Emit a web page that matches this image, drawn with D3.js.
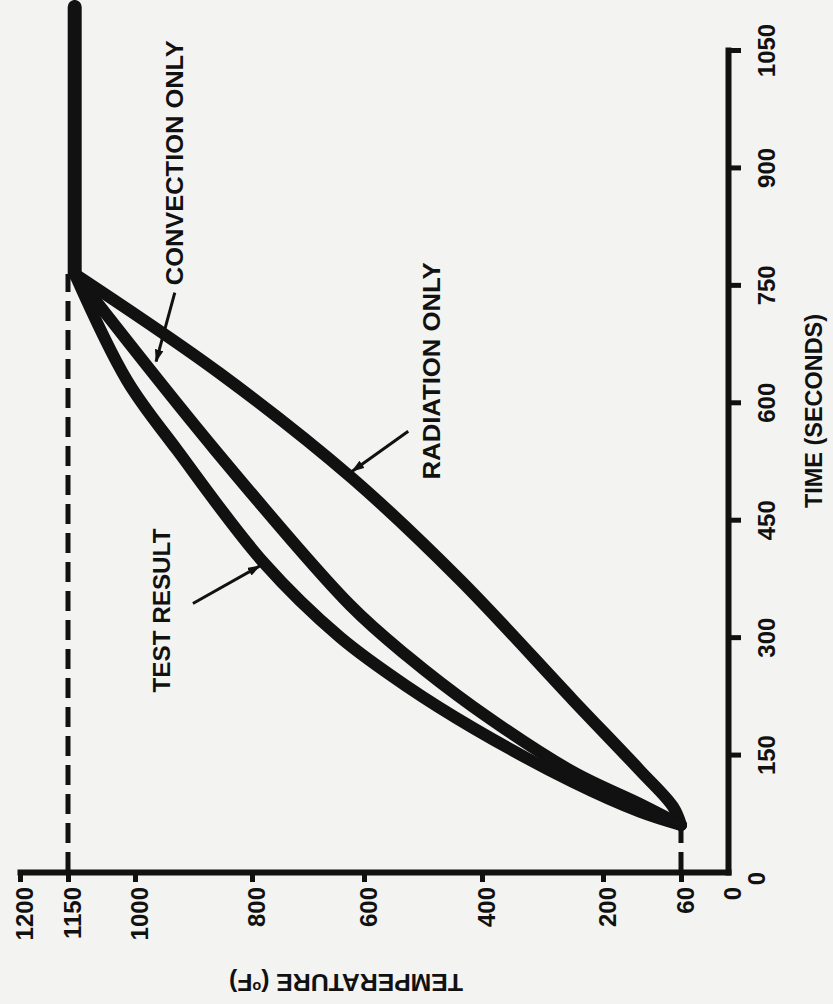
<!DOCTYPE html>
<html>
<head>
<meta charset="utf-8">
<script src="https://cdn.jsdelivr.net/npm/d3@7"></script>
<style>
  html, body { margin: 0; padding: 0; background: #f3f3f1; }
  svg { display: block; }
  text { font-family: "Liberation Sans", Arial, sans-serif; font-weight: bold; fill: #111; }
</style>
</head>
<body>
<div id="chart"></div>
<script>
// values: [time (s), temperature (F)]
var timeTicks = [0, 150, 300, 450, 600, 750, 900, 1050];
var tempTicks = [1200, 1150, 1000, 800, 600, 400, 200, 60, 0];

var radiationOnly = [[60, 60], [83, 74], [130, 134], [220, 250], [373, 437], [503, 621], [637, 855], [764, 1135]];
var convectionOnly = [[60, 60], [87, 134], [128, 250], [211, 415], [276, 527], [341, 625], [539, 863], [764, 1135]];
var testResult = [[60, 60], [77, 134], [115, 250], [184, 415], [237, 527], [300, 643], [395, 779],
    [539, 928], [628, 1018], [764, 1135]];
var steadyState = [[764, 1135], [1105, 1135]];

// dashed reference lines: initial and final temperature
var initialLine = [[0, 60], [60, 60]];
var finalLine = [[0, 1150], [764, 1150]];

// annotations, anchors in [time, temp]
var labelNames = ["CONVECTION ONLY", "TEST RESULT", "RADIATION ONLY"];
var labelAnchors = [[906, 932], [334, 954], [640, 486]];
var arrowTails = [[740, 932], [343, 901], [563, 525]];
var arrowTips = [[652, 964], [391, 786], [512, 621]];

// layout (the page is drawn turned on its side: time runs up, temperature runs left)
var width = 833, height = 1004;
var tempTickX = [20, 68, 135, 252, 364, 482, 603, 681, 728]; // hand drawn axis, not quite even
var labelLengths = [245, 164, 217];
var ink = "#111";

var svg = d3.select("#chart")
    .append("svg")
    .attr("width", width)
    .attr("height", height);

svg.append("defs").append("marker")
    .attr("id", "head")
    .attr("viewBox", "0 0 12 8")
    .attr("refX", 11)
    .attr("refY", 4)
    .attr("markerWidth", 13)
    .attr("markerHeight", 9)
    .attr("markerUnits", "userSpaceOnUse")
    .attr("orient", "auto")
    .append("path")
    .attr("d", "M0,0 L12,4 L0,8 z")
    .attr("fill", ink);

var timeScale = d3.scaleLinear()
    .domain([0, 1050])
    .range([872, 50]);

var tempScale = d3.scaleLinear()
    .domain(tempTicks)
    .range(tempTickX);

// temperature axis along the bottom
var tempAxis = svg.append("g")
    .attr("transform", "translate(0, 872)")
    .call(d3.axisBottom(tempScale).tickValues(tempTicks).tickSize(10).tickSizeOuter(0)
        .tickFormat(d3.format("d")));

// time axis on the right
var timeAxis = svg.append("g")
    .attr("transform", "translate(728, 0)")
    .call(d3.axisRight(timeScale).tickValues(timeTicks).tickSize(13).tickSizeOuter(0)
        .tickFormat(d3.format("d")));

[tempAxis, timeAxis].forEach(function (ax) {
    ax.select(".domain")
        .attr("stroke", ink)
        .attr("stroke-width", 6)
        .attr("stroke-linecap", "square");
    ax.selectAll(".tick line")
        .attr("stroke", ink)
        .attr("stroke-width", 5)
        .filter(d => d == 0)
        .remove();
    ax.selectAll(".tick text")
        .attr("x", null)
        .attr("y", null)
        .attr("dy", null)
        .attr("fill", ink)
        .style("font-size", "24px")
        .style("font-family", null);
});

tempAxis.selectAll(".tick text")
    .attr("text-anchor", "end")
    .attr("transform", "translate(12, 15) rotate(-90)");

timeAxis.selectAll(".tick text")
    .attr("text-anchor", "middle")
    .attr("transform", d => d == 0 ? "translate(37, 6) rotate(-90)" : "translate(47, 0) rotate(-90)");

// axis titles
var tempTitle = svg.append("text")
    .attr("transform", "translate(346, 974) rotate(180)")
    .attr("text-anchor", "middle")
    .attr("textLength", 234)
    .attr("lengthAdjust", "spacingAndGlyphs")
    .style("font-size", "24px");
tempTitle.append("tspan").text("TEMPERATURE (");
tempTitle.append("tspan").text("o").style("font-size", "14px").attr("dy", -8);
tempTitle.append("tspan").text("F)").attr("dy", 8);

svg.append("text")
    .attr("transform", "translate(822, 411) rotate(-90)")
    .attr("text-anchor", "middle")
    .attr("textLength", 194)
    .attr("lengthAdjust", "spacingAndGlyphs")
    .style("font-size", "24px")
    .text("TIME (SECONDS)");

var line = d3.line()
    .x(d => tempScale(d[1]))
    .y(d => timeScale(d[0]));

// dashed reference lines
[initialLine, finalLine].forEach(function (data) {
    svg.append("path")
        .datum(data)
        .attr("fill", "none")
        .attr("stroke", ink)
        .attr("stroke-width", 5)
        .attr("stroke-dasharray", "20,9")
        .attr("d", line);
});

// the three curves
var curve = d3.line()
    .x(d => tempScale(d[1]))
    .y(d => timeScale(d[0]))
    .curve(d3.curveCatmullRom);

[radiationOnly, convectionOnly, testResult].forEach(function (data) {
    svg.append("path")
        .datum(data)
        .attr("fill", "none")
        .attr("stroke", ink)
        .attr("stroke-width", 12)
        .attr("stroke-linejoin", "round")
        .attr("stroke-linecap", "round")
        .attr("d", curve);
});

svg.append("path")
    .datum(steadyState)
    .attr("fill", "none")
    .attr("stroke", ink)
    .attr("stroke-width", 14)
    .attr("stroke-linecap", "round")
    .attr("d", line);

// labels and arrows
labelNames.forEach(function (name, i) {
    svg.append("text")
        .attr("transform", "translate(" + (tempScale(labelAnchors[i][1]) + 8.5) + "," +
            timeScale(labelAnchors[i][0]) + ") rotate(-90)")
        .attr("text-anchor", "middle")
        .attr("textLength", labelLengths[i])
        .attr("lengthAdjust", "spacingAndGlyphs")
        .style("font-size", "24px")
        .text(name);

    svg.append("line")
        .attr("x1", tempScale(arrowTails[i][1]))
        .attr("y1", timeScale(arrowTails[i][0]))
        .attr("x2", tempScale(arrowTips[i][1]))
        .attr("y2", timeScale(arrowTips[i][0]))
        .attr("stroke", ink)
        .attr("stroke-width", 3)
        .attr("marker-end", "url(#head)");
});
</script>
</body>
</html>
